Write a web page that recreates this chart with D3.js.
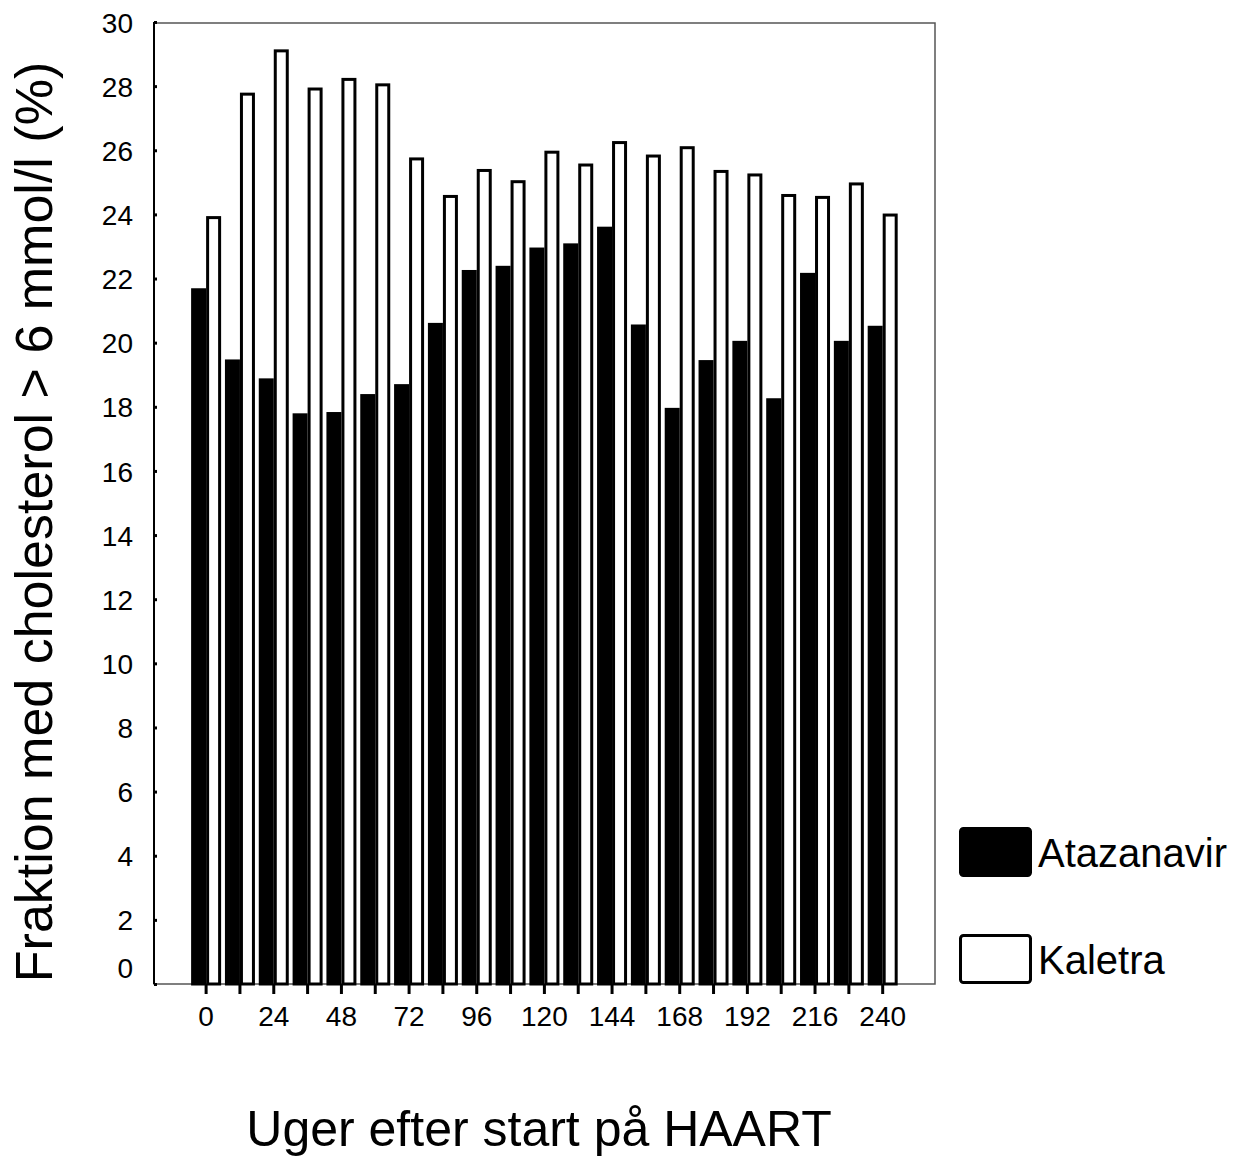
<!DOCTYPE html>
<html>
<head>
<meta charset="utf-8">
<script src="https://cdn.jsdelivr.net/npm/d3@7"></script>
<style>
  body { margin: 0; background: #fff; }
  svg { display: block; font-family: "Liberation Sans", Arial, sans-serif; }
</style>
</head>
<body>
<div id="chart"></div>
<script>
// Data
var weeks = [0, 12, 24, 36, 48, 60, 72, 84, 96, 108, 120, 132, 144, 156, 168, 180, 192, 204, 216, 228, 240];
var atazanavir = [21.65, 19.43, 18.84, 17.75, 17.79, 18.35, 18.66, 20.57, 22.22, 22.35, 22.92, 23.05, 23.57, 20.52, 17.92, 19.41, 20.01, 18.22, 22.13, 20.01, 20.48];
var kaletra = [23.90, 27.75, 29.10, 27.91, 28.21, 28.04, 25.73, 24.56, 25.37, 25.02, 25.94, 25.54, 26.24, 25.82, 26.08, 25.34, 25.23, 24.59, 24.53, 24.95, 23.98];
var yTicks = [0, 2, 4, 6, 8, 10, 12, 14, 16, 18, 20, 22, 24, 26, 28, 30];
var seriesNames = ["Atazanavir", "Kaletra"];

var svgWidth = 1241;
var svgHeight = 1157;

var plot = { left: 154, right: 935, top: 22, bottom: 984 };

var svg = d3.select("#chart")
  .append("svg")
  .attr("width", svgWidth)
  .attr("height", svgHeight);

// scales
var x = d3.scaleBand()
  .domain(weeks)
  .range([189.2, 899.6])
  .paddingInner(0)
  .paddingOuter(0);

var y = d3.scaleLinear()
  .domain([0, 30])
  .range([plot.bottom, plot.top]);

// frame
svg.append("rect")
  .attr("x", plot.left)
  .attr("y", plot.top + 1)
  .attr("width", plot.right - plot.left)
  .attr("height", plot.bottom - plot.top - 1)
  .attr("fill", "none")
  .attr("stroke", "#555")
  .attr("stroke-width", 1.5);

// bars
var step = x.step();
var barW = 15;
var groupGap = (step - 2 * barW) / 2;

var groups = svg.append("g").selectAll("g")
  .data(weeks)
  .enter()
  .append("g")
  .attr("transform", d => `translate(${x(d)}, 0)`);

groups.append("rect")
  .attr("x", groupGap + 1.5)
  .attr("y", (d, i) => y(atazanavir[i]))
  .attr("width", barW - 3)
  .attr("height", (d, i) => y(0) - y(atazanavir[i]))
  .attr("fill", "#000")
  .attr("stroke", "#000")
  .attr("stroke-width", 3);

groups.append("rect")
  .attr("x", groupGap + barW + 1.5)
  .attr("y", (d, i) => y(kaletra[i]))
  .attr("width", barW - 3)
  .attr("height", (d, i) => y(0) - y(kaletra[i]))
  .attr("fill", "#fff")
  .attr("stroke", "#000")
  .attr("stroke-width", 3);

// y axis
var leftAxis = d3.axisLeft(y)
  .tickValues(yTicks)
  .tickSizeInner(12)
  .tickSizeOuter(0)
  .tickPadding(9);

var yAxis = svg.append("g")
  .attr("transform", `translate(${plot.left}, 0)`)
  .call(leftAxis);

yAxis.select(".domain").remove();
yAxis.selectAll(".tick line")
  .attr("x2", 3)
  .attr("stroke", "#000")
  .attr("stroke-width", 3);
yAxis.selectAll(".tick text")
  .attr("fill", "#000")
  .style("font-size", "28px")
  .attr("dy", d => d === 0 ? "-0.22em" : "0.36em");

yAxis.append("line")
  .attr("x1", 0).attr("x2", 0)
  .attr("y1", plot.top).attr("y2", plot.bottom)
  .attr("stroke", "#000")
  .attr("stroke-width", 2);

// x axis
var bottomAxis = d3.axisBottom(x)
  .tickSizeInner(10)
  .tickSizeOuter(0)
  .tickFormat(d => d % 24 === 0 ? d : "");

var xAxis = svg.append("g")
  .attr("transform", `translate(0, ${plot.bottom})`)
  .call(bottomAxis);

xAxis.select(".domain").remove();
xAxis.selectAll(".tick line")
  .attr("stroke", "#000")
  .attr("stroke-width", 3);
xAxis.selectAll(".tick text")
  .attr("fill", "#000")
  .attr("y", 42)
  .attr("dy", 0)
  .style("font-size", "28px");

// axis titles
svg.append("text")
  .attr("transform", "translate(52, 522) rotate(-90)")
  .attr("text-anchor", "middle")
  .style("font-size", "52px")
  .text("Fraktion med cholesterol > 6 mmol/l (%)");

svg.append("text")
  .attr("x", 539)
  .attr("y", 1146)
  .attr("text-anchor", "middle")
  .style("font-size", "50px")
  .text("Uger efter start på HAART");

// legend
var legend = svg.append("g")
  .selectAll("g")
  .data(seriesNames)
  .enter()
  .append("g")
  .attr("transform", (d, i) => `translate(960.5, ${828.5 + i * 107})`);

legend.append("rect")
  .attr("width", 70)
  .attr("height", 47)
  .attr("rx", 3)
  .attr("fill", (d, i) => i === 0 ? "#000" : "#fff")
  .attr("stroke", "#000")
  .attr("stroke-width", 3);

legend.append("text")
  .attr("x", 77.5)
  .attr("y", 38.5)
  .style("font-size", "40px")
  .text(d => d);
</script>
</body>
</html>
